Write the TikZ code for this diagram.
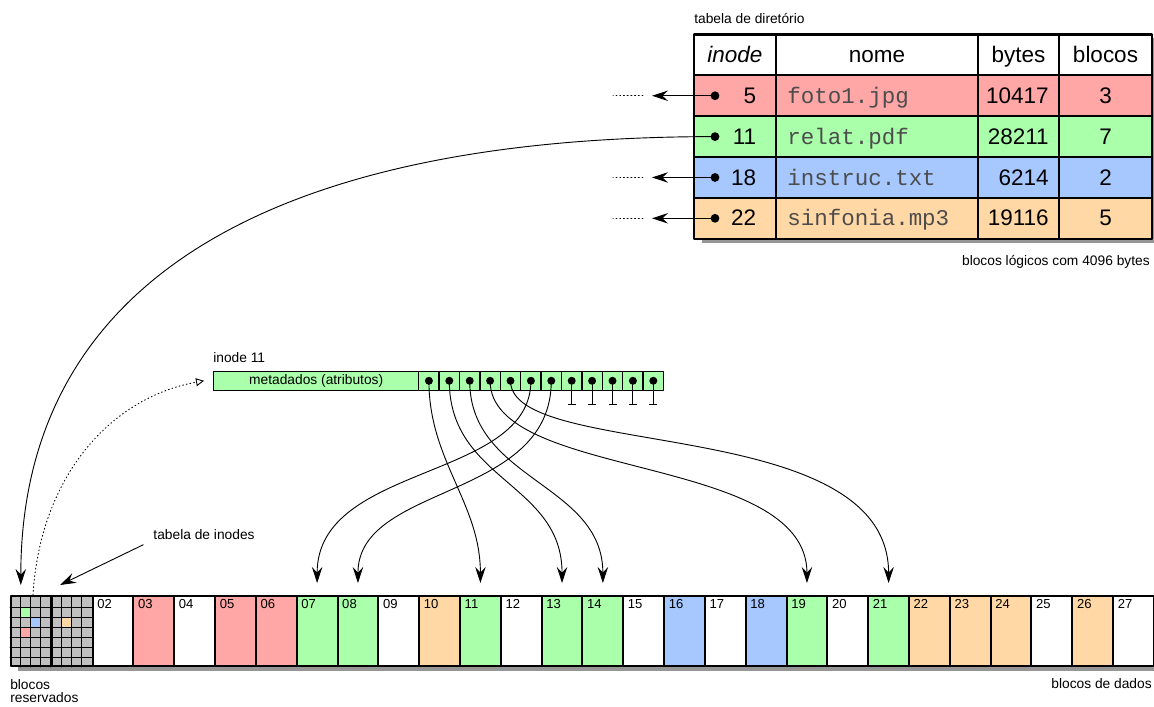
\documentclass[tikz,border=0pt]{standalone}
\usepackage{fontspec}
\setmainfont{Liberation Sans}
\setmonofont{Liberation Mono}
\usetikzlibrary{arrows.meta}

\definecolor{cverm}{RGB}{255,166,166}
\definecolor{cverde}{RGB}{170,255,170}
\definecolor{cazul}{RGB}{166,200,255}
\definecolor{claranja}{RGB}{255,216,166}
\definecolor{ccinza}{RGB}{192,192,192}
\definecolor{csombra}{RGB}{150,150,150}

\begin{document}
\begin{tikzpicture}[line cap=round, line join=round,
  pequeno/.style={font=\fontsize{9.8}{9}\selectfont, inner sep=0pt},
  numbloco/.style={font=\fontsize{9.3}{10}\selectfont, inner sep=0pt, anchor=north west},
  grande/.style={font=\fontsize{16}{19}\selectfont, inner sep=0pt},
  arquivo/.style={font=\fontsize{16}{19}\selectfont\ttfamily, text=black!70, inner sep=0pt, anchor=base west},
  seta/.style={-{Stealth[length=4mm,width=2.6mm,inset=1.4mm]}, line width=0.65pt},
  ponto/.style={circle, fill=black, inner sep=0pt, minimum size=2.2mm},
  bloco/.style={draw, line width=1.4pt, inner sep=0pt, anchor=south west,
                minimum width=\bw cm, minimum height=\hb cm},
  celula/.style={draw, line width=1.0pt, fill=cverde, inner sep=0pt, anchor=south west,
                 minimum height=0.475cm},
  sombra/.style={fill=csombra}]
  \useasboundingbox (0,0) rectangle (28.85,17.675);
  \def\xo{0.25}
  \def\yb{1.0}
  \def\bw{1.0205}
  \def\hb{1.75}

  % blocos do disco
  \fill[sombra] ({\xo+0.2},{\yb-0.1}) rectangle ({\xo+28*\bw+0.2},{\yb+\hb-0.1});
  \foreach \n/\lab/\cor in {2/02/white, 3/03/cverm, 4/04/white, 5/05/cverm, 6/06/cverm,
      7/07/cverde, 8/08/cverde, 9/09/white, 10/10/claranja, 11/11/cverde, 12/12/white,
      13/13/cverde, 14/14/cverde, 15/15/white, 16/16/cazul, 17/17/white, 18/18/cazul,
      19/19/cverde, 20/20/white, 21/21/cverde, 22/22/claranja, 23/23/claranja,
      24/24/claranja, 25/25/white, 26/26/claranja, 27/27/white} {
    \node[bloco, fill=\cor] (b\n) at ({\xo+\n*\bw},\yb) {};
    \node[numbloco] (l\n) at ([xshift=1.35mm,yshift=-1.1mm]b\n.north west) {\lab};
  }

  % blocos reservados (tabela de inodes)
  \fill[ccinza] (\xo,\yb) rectangle ({\xo+2*\bw},{\yb+\hb});
  \foreach \col/\lin/\cor in {1/1/cverde, 2/2/cazul, 1/3/cverm, 5/2/claranja}
    \fill[\cor] ({\xo+\col*\bw/4},{\yb+\hb-(\lin+1)*0.25}) rectangle ++({\bw/4},0.25);
  \foreach \col in {1,...,7}
    \draw[line width=0.6pt] ({\xo+\col*\bw/4},\yb) -- ++(0,\hb);
  \foreach \lin in {1,...,6}
    \draw[line width=0.6pt] (\xo,{\yb+\lin*0.25}) -- ++({2*\bw},0);
  \node[bloco] (b0) at (\xo,\yb) {};
  \node[bloco] (b1) at ({\xo+\bw},\yb) {};

  \node[pequeno, anchor=north west, align=left] (reserv) at (\xo,0.69) {blocos\\reservados};
  \node[pequeno, anchor=base east] (dados) at (28.8,0.45) {blocos de dados};
  \node[pequeno, anchor=base west] (tinodes) at (3.83,4.175) {tabela de inodes};
  \draw[seta] ([xshift=-2.5mm,yshift=-1.2mm]tinodes.base west) -- ([xshift=12.5mm,yshift=2.5mm]b0.north west);

  % inode 11
  \node[pequeno, anchor=base west] (rotinode) at (5.325,8.6) {inode 11};
  \node[celula, minimum width=5.125cm, font=\fontsize{9.8}{9}\selectfont] (meta) at (5.325,7.9) {metadados (atributos)};
  \foreach \p in {0,...,11} {
    \node[celula, minimum width=0.51cm] (c\p) at ({10.45+\p*0.51},7.9) {};
    \fill (c\p.center) circle (0.1);
  }
  \foreach \p in {7,...,11}
    \draw[line width=0.65pt, -{Bar[width=2mm]}] (c\p.center) -- ++(0,-0.61);

  % ponteiros para os blocos de dados
  \foreach \p/\n/\ca/\cb in {0/11/2.0/2.0, 1/13/2.5/2.5, 2/14/2.5/2.5, 3/19/2.5/3.25,
      4/21/2.0/4.25, 5/7/2.5/3.0, 6/8/3.0/2.5}
    \draw[seta] (c\p.center) .. controls +(0,-\ca) and +(0,\cb) .. ([yshift=3mm]b\n.north);

  \draw[dotted, line width=0.65pt, -{Triangle[open,length=2mm,width=2mm]}]
    ([xshift=5.75mm]b0.north west) .. controls +(0.175,2.95) and +(-2.35,-0.425) .. ([xshift=-2.25mm]meta.west);

  % tabela de diretório
  \def\tx{17.35}
  \def\ty{16.8125}
  \def\rh{1.02125}
  \def\tfim{28.8}
  \node[pequeno, anchor=base west] (tdir) at (\tx,17.075) {tabela de diretório};
  \node[pequeno, anchor=base east] (tlog) at (28.75,11.03) {blocos lógicos com 4096 bytes};
  \fill[sombra] ({\tx+0.2},{\ty-5*\rh-0.1}) rectangle ({\tfim+0.2},{\ty-0.1});
  \fill[white] (\tx,{\ty-\rh}) rectangle (\tfim,\ty);
  \foreach \lin/\cor in {1/cverm, 2/cverde, 3/cazul, 4/claranja}
    \fill[\cor] (\tx,{\ty-(\lin+1)*\rh}) rectangle (\tfim,{\ty-\lin*\rh});
  \foreach \lin in {1,...,4}
    \draw[line width=1.5pt] (\tx,{\ty-\lin*\rh}) -- (\tfim,{\ty-\lin*\rh});
  \foreach \cx in {19.4,24.45,26.475}
    \draw[line width=1.5pt] (\cx,\ty) -- (\cx,{\ty-5*\rh});
  \draw[line width=1.5pt] (\tx,{\ty-5*\rh}) rectangle (\tfim,\ty);

  \pgfmathsetmacro\yc{\ty-0.5*\rh-0.19}
  \node[grande, anchor=base] (hinode) at (18.375,\yc) {\textit{inode}};
  \node[grande, anchor=base] (hnome) at (21.925,\yc) {nome};
  \node[grande, anchor=base] (hbytes) at (25.4625,\yc) {bytes};
  \node[grande, anchor=base] (hblocos) at (27.6375,\yc) {blocos};

  \foreach \lin/\ino/\nome/\byt/\blc in {1/5/foto1.jpg/10417/3, 2/11/relat.pdf/28211/7,
      3/18/instruc.txt/6214/2, 4/22/sinfonia.mp3/19116/5} {
    \pgfmathsetmacro\ym{\ty-(\lin+0.5)*\rh}
    \node[ponto] (d\ino) at (17.875,\ym) {};
    \node[grande, anchor=base east] (i\ino) at (18.91,{\ym-0.19}) {\ino};
    \node[arquivo] (f\ino) at (19.675,{\ym-0.19}) {\nome};
    \node[grande, anchor=base east] (y\ino) at (26.225,{\ym-0.19}) {\byt};
    \node[grande, anchor=base] (k\ino) at (27.6375,{\ym-0.19}) {\blc};
  }

  % ponteiros da tabela
  \foreach \q in {5,18,22} {
    \draw[seta] (d\q.center) -- ++(-1.575,0) coordinate (s\q);
    \draw[dotted, line width=0.65pt] ([xshift=-2.25mm]s\q) -- ++(-0.75,0);
  }
  \draw[seta] (d11.center) .. controls +(-11.25,0) and +(0,7.5) .. ([xshift=2.7mm,yshift=2.5mm]b0.north west);
\end{tikzpicture}
\end{document}
